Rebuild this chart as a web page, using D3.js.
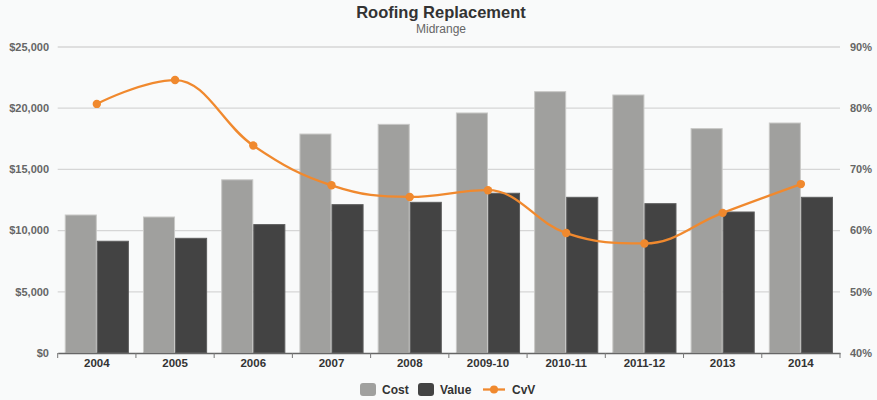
<!DOCTYPE html>
<html>
<head>
<meta charset="utf-8">
<script src="https://cdn.jsdelivr.net/npm/d3@7"></script>
<style>
  html, body { margin: 0; padding: 0; background: #f9fafa; }
  svg { display: block; font-family: "Liberation Sans", Arial, sans-serif; }
</style>
</head>
<body>
<svg id="chart" width="877" height="400"></svg>
<script>
const categories = ["2004", "2005", "2006", "2007", "2008", "2009-10", "2010-11", "2011-12", "2013", "2014"];
const costValues = [11275, 11110, 14150, 17890, 18680, 19610, 21350, 21080, 18330, 18790];
const valueValues = [9130, 9370, 10490, 12120, 12310, 13050, 12720, 12200, 11520, 12720];
const cvvValues = [80.7, 84.6, 73.9, 67.4, 65.5, 66.6, 59.6, 57.9, 62.9, 67.6];
const leftTicks = [0, 5000, 10000, 15000, 20000, 25000];
const rightTicks = [40, 50, 60, 70, 80, 90];
const seriesNames = ["Cost", "Value", "CvV"];

const W = 877, H = 400;
const m = { left: 57.7, right: 840, top: 47, bottom: 353 };
const svg = d3.select("#chart");

svg.append("rect").attr("width", W).attr("height", H).attr("fill", "#f9fafa");

const x = d3.scaleBand().domain(categories).range([m.left, m.right]).paddingInner(0).paddingOuter(0);
const bw = x.bandwidth();
const x1 = d3.scaleBand().domain(["cost", "value"]).range([bw * 0.09, bw * 0.91]).padding(0);
const yL = d3.scaleLinear().domain([0, 25000]).range([m.bottom, m.top]);
const yR = d3.scaleLinear().domain([40, 90]).range([m.bottom, m.top]);

// gridlines
svg.append("g").selectAll("line").data(leftTicks.slice(1)).join("line")
  .attr("x1", m.left).attr("x2", m.right)
  .attr("y1", d => yL(d)).attr("y2", d => yL(d))
  .attr("stroke", "#d6d6d6").attr("stroke-width", 1.3);

// left axis labels
const fmt = d3.format("$,");
svg.append("g").selectAll("text").data(leftTicks).join("text")
  .attr("x", 49).attr("y", d => yL(d)).attr("dy", "0.35em")
  .attr("text-anchor", "end")
  .attr("font-size", 11).attr("font-weight", "bold").attr("fill", "#666")
  .text(d => fmt(d));

// right axis labels
svg.append("g").selectAll("text").data(rightTicks).join("text")
  .attr("x", 850).attr("y", d => yR(d)).attr("dy", "0.35em")
  .attr("text-anchor", "start")
  .attr("font-size", 11).attr("font-weight", "bold").attr("fill", "#666")
  .text(d => d + "%");

// bars
const g = svg.append("g");
categories.forEach((c, i) => {
  const pairs = [["cost", costValues[i], "#a0a09e", "#c8c8c6"], ["value", valueValues[i], "#434343", "#5e5e5e"]];
  pairs.forEach(([k, v, fill, stroke]) => {
    g.append("rect")
      .attr("x", x(c) + x1(k) + 0.5)
      .attr("y", yL(v))
      .attr("width", x1.bandwidth() - 1)
      .attr("height", yL(0) - yL(v))
      .attr("fill", fill)
      .attr("stroke", stroke).attr("stroke-width", 1);
  });
});

// x axis
const xAxis = d3.axisBottom(x).tickSize(0).tickSizeOuter(0);
const ax = svg.append("g").attr("transform", `translate(0,${m.bottom})`).call(xAxis);
ax.select(".domain").attr("stroke", "#666").attr("stroke-width", 1.3);
ax.selectAll("text").attr("font-size", 11.5).attr("font-weight", "bold").attr("fill", "#333")
  .attr("font-family", "Liberation Sans, Arial, sans-serif").attr("dy", "0").attr("y", 14);
// band boundary ticks
const bounds = categories.map(c => x(c)).concat([x(categories[categories.length - 1]) + bw]);
svg.append("g").selectAll("line").data(bounds).join("line")
  .attr("x1", d => d).attr("x2", d => d)
  .attr("y1", m.bottom).attr("y2", m.bottom + 5)
  .attr("stroke", "#777").attr("stroke-width", 1);

// spline (Highcharts-style)
const pts = categories.map((c, i) => ({ x: x(c) + bw / 2, y: yR(cvvValues[i]) }));
const smoothing = 1.5, denom = smoothing + 1;
pts.forEach((p, i) => {
  if (i > 0 && i < pts.length - 1) {
    const a = pts[i - 1], b = pts[i + 1];
    let lcx = (smoothing * p.x + a.x) / denom, lcy = (smoothing * p.y + a.y) / denom;
    let rcx = (smoothing * p.x + b.x) / denom, rcy = (smoothing * p.y + b.y) / denom;
    const corr = ((rcy - lcy) * (rcx - p.x)) / (rcx - lcx) + p.y - rcy;
    lcy += corr; rcy += corr;
    if (lcy > a.y && lcy > p.y) { lcy = Math.max(a.y, p.y); rcy = 2 * p.y - lcy; }
    else if (lcy < a.y && lcy < p.y) { lcy = Math.min(a.y, p.y); rcy = 2 * p.y - lcy; }
    if (rcy > b.y && rcy > p.y) { rcy = Math.max(b.y, p.y); lcy = 2 * p.y - rcy; }
    else if (rcy < b.y && rcy < p.y) { rcy = Math.min(b.y, p.y); lcy = 2 * p.y - rcy; }
    p.lcx = lcx; p.lcy = lcy; p.rcx = rcx; p.rcy = rcy;
  }
});
const path = d3.path();
path.moveTo(pts[0].x, pts[0].y);
for (let i = 1; i < pts.length; i++) {
  const a = pts[i - 1], p = pts[i];
  path.bezierCurveTo(
    a.rcx !== undefined ? a.rcx : a.x, a.rcy !== undefined ? a.rcy : a.y,
    p.lcx !== undefined ? p.lcx : p.x, p.lcy !== undefined ? p.lcy : p.y,
    p.x, p.y);
}
const orange = "#f0892e";
svg.append("path").attr("d", path.toString()).attr("fill", "none")
  .attr("stroke", orange).attr("stroke-width", 2.3);
svg.append("g").selectAll("circle").data(pts).join("circle")
  .attr("cx", d => d.x).attr("cy", d => d.y).attr("r", 4.2).attr("fill", orange);

// title
svg.append("text").attr("x", 441).attr("y", 18).attr("text-anchor", "middle")
  .attr("font-size", 16.5).attr("font-weight", "bold").attr("fill", "#333")
  .text("Roofing Replacement");
svg.append("text").attr("x", 441).attr("y", 33).attr("text-anchor", "middle")
  .attr("font-size", 12).attr("fill", "#666")
  .text("Midrange");

// legend
const lg = svg.append("g");
lg.append("rect").attr("x", 360).attr("y", 383).attr("width", 16).attr("height", 13).attr("rx", 3)
  .attr("fill", "#a0a09e");
lg.append("text").attr("x", 382).attr("y", 394).attr("font-size", 12).attr("font-weight", "bold")
  .attr("fill", "#333").text(seriesNames[0]);
lg.append("rect").attr("x", 418).attr("y", 383).attr("width", 16).attr("height", 13).attr("rx", 3)
  .attr("fill", "#434343");
lg.append("text").attr("x", 440).attr("y", 394).attr("font-size", 12).attr("font-weight", "bold")
  .attr("fill", "#333").text(seriesNames[1]);
lg.append("line").attr("x1", 483).attr("x2", 505).attr("y1", 389.5).attr("y2", 389.5)
  .attr("stroke", orange).attr("stroke-width", 2.3);
lg.append("circle").attr("cx", 494).attr("cy", 389.5).attr("r", 4).attr("fill", orange);
lg.append("text").attr("x", 512).attr("y", 394).attr("font-size", 12).attr("font-weight", "bold")
  .attr("fill", "#333").text(seriesNames[2]);
</script>
</body>
</html>
